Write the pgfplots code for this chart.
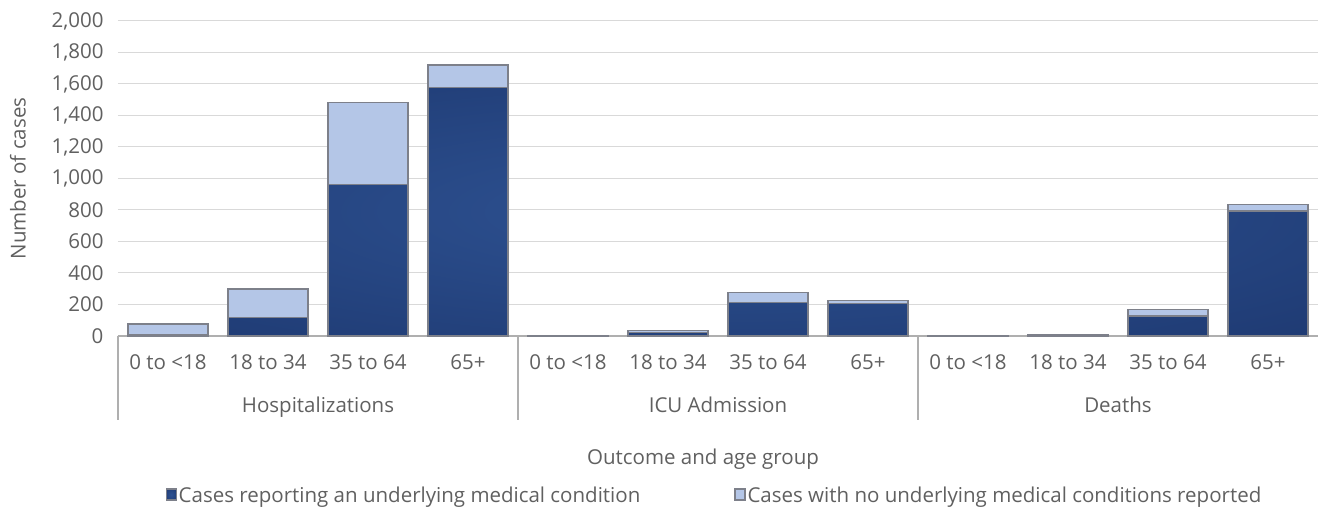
\documentclass[border=0pt]{standalone}
\usepackage{fontspec}
\setmainfont{Open Sans}
\usepackage{pgfplots}
\pgfplotsset{compat=1.18}

\definecolor{darkbar}{RGB}{31,59,116}
\definecolor{darkbarc}{RGB}{46,82,146}
\definecolor{lightbar}{RGB}{180,198,231}
\definecolor{barline}{RGB}{125,128,138}
\definecolor{gridgray}{RGB}{217,217,217}
\definecolor{axisgray}{RGB}{175,175,175}
\definecolor{textgray}{RGB}{96,96,96}

\pgfdeclareradialshading{barshade}{\pgfpoint{0bp}{0bp}}{%
  color(0bp)=(darkbarc); color(35bp)=(darkbar); color(60bp)=(darkbar)}

\begin{document}
\begin{tikzpicture}[font=\fontsize{20.5}{24}\selectfont, text=textgray]
\path[use as bounding box] (-118pt,-174pt) rectangle (1200pt,336pt);
\begin{axis}[
  at={(0,0)},
  scale only axis,
  width=1200pt, height=315pt,
  ybar stacked,
  bar width=0.8,
  xmin=-0.5, xmax=11.5,
  ymin=0, ymax=2000,
  ytick={0,200,...,2000},
  xtick={0,...,11},
  xticklabels={0 to <18,18 to 34,35 to 64,65+,0 to <18,18 to 34,35 to 64,65+,0 to <18,18 to 34,35 to 64,65+},
  axis x line*=bottom,
  axis y line*=left,
  x axis line style={draw=axisgray, line width=1.2pt, -},
  y axis line style={draw=none},
  major tick length=0pt,
  ymajorgrids,
  grid style={draw=gridgray, line width=1pt},
  /pgf/number format/assume math mode=true,
  /pgf/number format/1000 sep={,},
  yticklabel style={xshift=-11pt, text=textgray},
  xticklabel style={anchor=base, yshift=-34pt, text=textgray},
  legend style={at={(0.497,-0.505)}, anchor=center, draw=none, fill=none,
    legend columns=2, text=textgray,
    /tikz/every even column/.append style={column sep=92pt}},
  legend image code/.code={\draw[#1] (0pt,-5pt) rectangle (10pt,6pt);},
  clip=false,
]
\addplot[shading=barshade, draw=barline, line width=1.2pt] coordinates {
(0,12) (1,116) (2,960) (3,1580) (4,2) (5,20) (6,211) (7,208) (8,2) (9,4) (10,127) (11,794)};
\addlegendentry{Cases reporting an underlying medical condition}
\addplot[fill=lightbar, draw=barline, line width=1.2pt] coordinates {
(0,64) (1,182) (2,520) (3,140) (4,2) (5,14) (6,64) (7,16) (8,1) (9,2) (10,42) (11,42)};
\addlegendentry{Cases with no underlying medical conditions reported}

\draw[axisgray, line width=1.2pt] (axis cs:-0.5,0) -- ([yshift=-84pt]axis cs:-0.5,0);
\draw[axisgray, line width=1.2pt] (axis cs:3.5,0) -- ([yshift=-84pt]axis cs:3.5,0);
\draw[axisgray, line width=1.2pt] (axis cs:7.5,0) -- ([yshift=-84pt]axis cs:7.5,0);
\node[text=textgray, anchor=base] at ([yshift=-77pt]axis cs:1.5,0) {Hospitalizations};
\node[text=textgray, anchor=base] at ([yshift=-77pt]axis cs:5.5,0) {ICU Admission};
\node[text=textgray, anchor=base] at ([yshift=-77pt]axis cs:9.5,0) {Deaths};
\node[text=textgray, anchor=base] at ([yshift=-129pt]axis cs:5.35,0) {Outcome and age group};
\node[text=textgray, rotate=90] at ([xshift=-100pt]axis cs:-0.5,1000) {Number of cases};
\end{axis}
\end{tikzpicture}
\end{document}
